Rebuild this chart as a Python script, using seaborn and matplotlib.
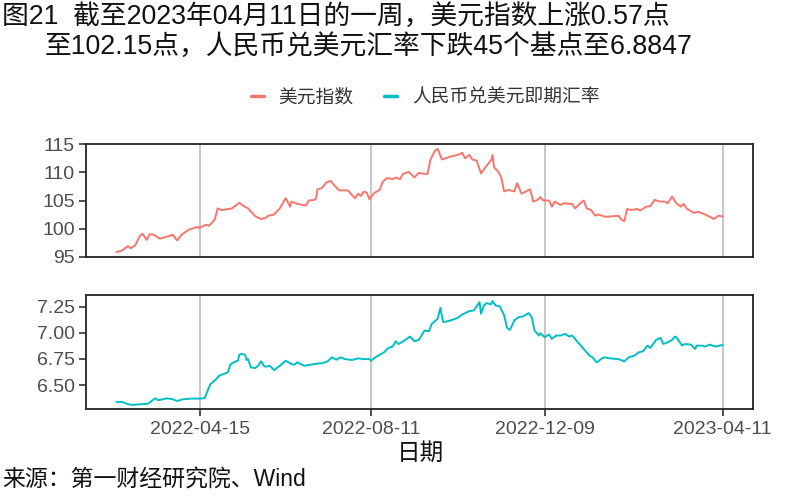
import matplotlib
matplotlib.use("Agg")
import matplotlib.pyplot as plt
from matplotlib.lines import Line2D
import seaborn as sns
import pandas as pd
import numpy as np

# ---------------- data ----------------
usd_dates = ["2022-02-16","2022-02-20","2022-02-24","2022-02-26","2022-03-01","2022-03-04","2022-03-06",
             "2022-03-09","2022-03-11","2022-03-14","2022-03-18","2022-03-22","2022-03-27","2022-03-30",
             "2022-04-02","2022-04-07","2022-04-13","2022-04-14","2022-04-19","2022-04-21","2022-04-25",
             "2022-04-27","2022-04-30","2022-05-07","2022-05-12","2022-05-15","2022-05-18","2022-05-23",
             "2022-05-27","2022-05-30","2022-06-01","2022-06-05","2022-06-09","2022-06-13","2022-06-14",
             "2022-06-16","2022-06-17","2022-06-21","2022-06-27","2022-06-29","2022-07-03","2022-07-04",
             "2022-07-05","2022-07-08","2022-07-11","2022-07-14","2022-07-17","2022-07-20","2022-07-26",
             "2022-07-28","2022-07-31","2022-08-02","2022-08-04","2022-08-06","2022-08-08","2022-08-10",
             "2022-08-13","2022-08-17","2022-08-19","2022-08-22","2022-08-26","2022-08-28","2022-08-31",
             "2022-09-02","2022-09-06","2022-09-10","2022-09-13","2022-09-19","2022-09-21","2022-09-24",
             "2022-09-26","2022-09-29","2022-10-05","2022-10-11","2022-10-13","2022-10-15","2022-10-18",
             "2022-10-20","2022-10-23","2022-10-26","2022-10-29","2022-11-02","2022-11-03","2022-11-04",
             "2022-11-07","2022-11-09","2022-11-11","2022-11-14","2022-11-18","2022-11-20","2022-11-23",
             "2022-11-26","2022-11-29","2022-12-01","2022-12-04","2022-12-06","2022-12-08","2022-12-12",
             "2022-12-14","2022-12-16","2022-12-20","2022-12-22","2022-12-28","2022-12-30","2023-01-03",
             "2023-01-05","2023-01-07","2023-01-10","2023-01-13","2023-01-15","2023-01-20","2023-01-25",
             "2023-01-29","2023-01-31","2023-02-02","2023-02-04","2023-02-07","2023-02-11","2023-02-13",
             "2023-02-17","2023-02-20","2023-02-23","2023-02-27","2023-03-02","2023-03-04","2023-03-07",
             "2023-03-10","2023-03-13","2023-03-15","2023-03-17","2023-03-22","2023-03-25","2023-03-30",
             "2023-04-05","2023-04-08","2023-04-11"]
usd_values = [95.8,96.1,96.9,96.5,97.0,98.6,99.1,
              98.0,99.0,98.9,98.2,98.5,98.9,97.9,
              98.9,99.8,100.3,100.1,100.7,100.5,101.6,
              103.6,103.3,103.6,104.6,104.0,103.6,102.2,
              101.7,101.9,102.3,102.5,103.6,105.4,105.0,
              103.9,104.8,104.4,104.1,105.0,105.1,105.4,
              107.0,107.2,108.2,108.5,107.6,106.8,106.8,
              106.2,105.4,106.2,105.8,106.6,106.4,105.2,
              106.3,106.9,108.3,109.0,108.8,109.1,108.8,
              109.7,110.1,109.1,109.9,109.7,112.2,113.8,
              114.2,112.3,112.8,113.2,113.5,112.5,113.1,
              112.3,112.1,109.8,110.9,112.2,113.1,110.9,
              110.1,109.1,106.6,106.9,106.6,108.1,106.2,
              106.6,107.0,104.8,105.1,105.6,105.0,105.0,
              103.9,104.8,104.2,104.5,104.4,103.6,104.6,
              105.0,103.6,103.3,102.3,102.5,102.1,102.2,
              102.3,101.6,101.3,103.5,103.3,103.5,103.2,
              103.9,104.0,105.1,104.8,104.8,104.5,105.7,
              104.5,103.9,104.4,103.6,102.8,103.0,102.5,
              101.7,102.3,102.15]

cny_dates = ["2022-02-16","2022-02-20","2022-02-23","2022-02-27","2022-03-04","2022-03-10","2022-03-13",
             "2022-03-15","2022-03-17","2022-03-20","2022-03-23","2022-03-27","2022-03-30","2022-04-03",
             "2022-04-09","2022-04-14","2022-04-18","2022-04-20","2022-04-22","2022-04-26","2022-04-28",
             "2022-05-02","2022-05-04","2022-05-06","2022-05-09","2022-05-11","2022-05-12","2022-05-14",
             "2022-05-16","2022-05-17","2022-05-18","2022-05-20","2022-05-23","2022-05-25","2022-05-27",
             "2022-05-29","2022-05-30","2022-06-02","2022-06-05","2022-06-09","2022-06-13","2022-06-17",
             "2022-06-19","2022-06-21","2022-06-26","2022-06-30","2022-07-06","2022-07-08","2022-07-12",
             "2022-07-15","2022-07-18","2022-07-21","2022-07-24","2022-07-29","2022-08-02","2022-08-06",
             "2022-08-10","2022-08-11","2022-08-14","2022-08-20","2022-08-23","2022-08-26","2022-08-28",
             "2022-08-30","2022-09-03","2022-09-07","2022-09-10","2022-09-13","2022-09-17","2022-09-20",
             "2022-09-22","2022-09-26","2022-09-28","2022-09-29","2022-09-30","2022-10-05","2022-10-10",
             "2022-10-13","2022-10-18","2022-10-21","2022-10-23","2022-10-25","2022-10-26","2022-10-28",
             "2022-10-30","2022-11-02","2022-11-03","2022-11-05","2022-11-08","2022-11-11","2022-11-13",
             "2022-11-15","2022-11-18","2022-11-21","2022-11-24","2022-11-25","2022-11-28","2022-11-30",
             "2022-12-02","2022-12-05","2022-12-06","2022-12-09","2022-12-12","2022-12-14","2022-12-17",
             "2022-12-20","2022-12-23","2022-12-26","2022-12-28","2022-12-31","2023-01-05","2023-01-09",
             "2023-01-11","2023-01-14","2023-01-17","2023-01-19","2023-01-23","2023-01-29","2023-02-02",
             "2023-02-05","2023-02-09","2023-02-12","2023-02-15","2023-02-18","2023-02-20","2023-02-24",
             "2023-02-27","2023-03-01","2023-03-04","2023-03-07","2023-03-09","2023-03-10","2023-03-14",
             "2023-03-16","2023-03-20","2023-03-23","2023-03-24","2023-03-28","2023-03-30","2023-04-02",
             "2023-04-06","2023-04-11"]
cny_values = [6.338,6.338,6.321,6.309,6.315,6.321,6.354,
              6.373,6.354,6.363,6.373,6.363,6.347,6.363,
              6.370,6.370,6.373,6.444,6.508,6.556,6.589,
              6.611,6.621,6.701,6.724,6.733,6.791,6.798,
              6.791,6.740,6.749,6.669,6.663,6.685,6.727,
              6.685,6.675,6.685,6.643,6.685,6.733,6.701,
              6.695,6.717,6.685,6.695,6.708,6.708,6.727,
              6.766,6.743,6.766,6.749,6.740,6.756,6.749,
              6.749,6.733,6.766,6.814,6.856,6.869,6.920,
              6.894,6.926,6.965,6.920,6.933,7.023,7.016,
              7.087,7.135,7.242,7.158,7.103,7.120,7.145,
              7.177,7.210,7.216,7.255,7.296,7.184,7.264,
              7.287,7.274,7.306,7.264,7.255,7.168,7.049,
              7.029,7.120,7.152,7.158,7.168,7.190,7.152,
              7.023,6.975,6.997,6.959,6.984,6.943,6.975,
              6.975,6.991,6.965,6.975,6.926,6.846,6.782,
              6.766,6.717,6.749,6.766,6.756,6.749,6.727,
              6.766,6.782,6.814,6.824,6.878,6.856,6.933,
              6.952,6.894,6.910,6.933,6.965,6.959,6.878,
              6.894,6.888,6.846,6.878,6.878,6.869,6.888,
              6.869,6.8847]

series_names = ["美元指数", "人民币兑美元即期汇率"]
x_tick_dates = ["2022-04-15", "2022-08-11", "2022-12-09", "2023-04-11"]
x_tick_labels = ["2022-04-15", "2022-08-11", "2022-12-09", "2023-04-11"]
usd_yticks = [95, 100, 105, 110, 115]
cny_yticks = [6.50, 6.75, 7.00, 7.25]

title_line1 = "图21  截至2023年04月11日的一周，美元指数上涨0.57点"
title_line2 = "至102.15点，人民币兑美元汇率下跌45个基点至6.8847"
x_label = "日期"
source_text = "来源：第一财经研究院、Wind"

colors = ["#F8766D", "#00BFC4"]

# ---------------- style ----------------
sns.set_theme(style="white")
plt.rcParams["font.family"] = ["Liberation Sans", "Noto Sans CJK SC", "DejaVu Sans"]

df_usd = pd.DataFrame({"date": pd.to_datetime(usd_dates), "value": usd_values})
df_cny = pd.DataFrame({"date": pd.to_datetime(cny_dates), "value": cny_values})

fig = plt.figure(figsize=(8, 5), dpi=100)
ax1 = fig.add_axes([86/800, 1-257/500, (753-86)/800, (257-144)/500])
ax2 = fig.add_axes([86/800, 1-409/500, (753-86)/800, (409-295)/500])

sns.lineplot(data=df_usd, x="date", y="value", ax=ax1, color=colors[0], lw=1.4,
             estimator=None, sort=False)
sns.lineplot(data=df_cny, x="date", y="value", ax=ax2, color=colors[1], lw=1.4,
             estimator=None, sort=False)

dmin = min(df_usd["date"].min(), df_cny["date"].min())
dmax = max(df_usd["date"].max(), df_cny["date"].max())
span = dmax - dmin
xlo, xhi = dmin - span * 0.05, dmax + span * 0.05

tick_pos = pd.to_datetime(x_tick_dates)
label_color = "#4D4D4D"
for ax, yt, fmt in [(ax1, usd_yticks, "{:.0f}"), (ax2, cny_yticks, "{:.2f}")]:
    ax.set_xlim(xlo, xhi)
    ax.set_xticks(tick_pos)
    ax.set_yticks(yt)
    ax.set_yticklabels([fmt.format(v) for v in yt], fontsize=14, color=label_color)
    ax.grid(False)
    for x in tick_pos:
        ax.axvline(x, color="#BDBDBD", lw=1.2, zorder=0)
    for s in ax.spines.values():
        s.set_visible(True)
        s.set_color("#222222")
        s.set_linewidth(1.3)
    ax.set_xlabel("")
    ax.set_ylabel("")
    ax.tick_params(axis="y", which="both", left=True, length=5, width=1.2, color="#333333", pad=3)

ax1.set_ylim(94.95, 115.05)
ax2.set_ylim(6.27, 7.364)
ax1.tick_params(axis="x", bottom=False, labelbottom=False)
ax2.set_xticklabels(x_tick_labels, fontsize=14, color=label_color)
ax2.tick_params(axis="x", bottom=True, length=5, width=1.2, color="#333333", pad=4)

# legend
handles = [Line2D([0], [0], color=c, lw=2.5) for c in colors]
fig.legend(handles, series_names, loc="center", bbox_to_anchor=(425/800, 1-97/500),
           ncol=2, frameon=False, handlelength=0.7, handletextpad=0.8, columnspacing=1.6,
           prop={"family": ["Noto Sans CJK SC"], "size": 13.5}, labelcolor="#333333")

# titles and annotations
fig.text(2/800, 1-17/500, title_line1, ha="left", va="center", fontsize=19.3, color="#111111")
fig.text(45/800, 1-47/500, title_line2, ha="left", va="center", fontsize=19.3, color="#111111")
fig.text(420/800, 1-453/500, x_label, ha="center", va="center", fontsize=17,
         family=["Noto Sans CJK SC"], color="#111111")
fig.text(2/800, 1-480/500, source_text, ha="left", va="center", fontsize=16.5, color="#111111")

fig.savefig("out.png", dpi=100)
